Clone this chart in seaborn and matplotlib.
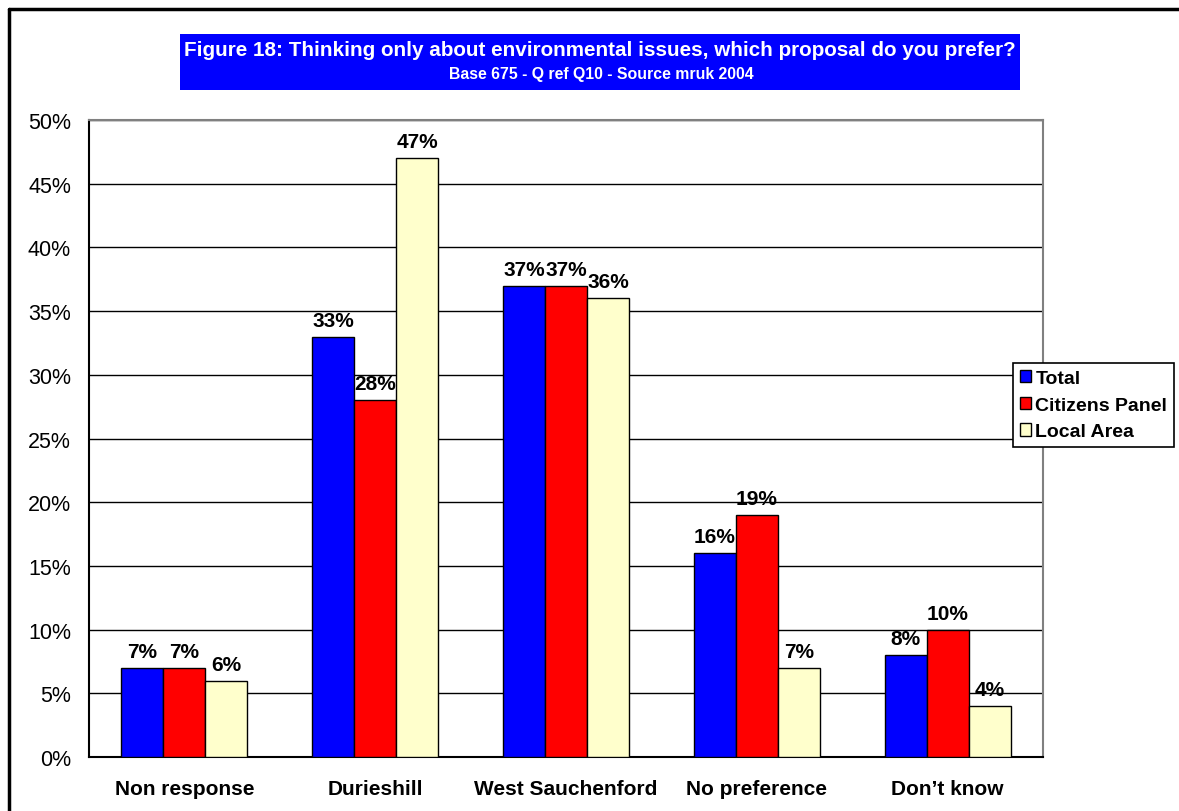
import matplotlib
matplotlib.use("Agg")
import matplotlib.pyplot as plt
import matplotlib.patches as mpatches
import matplotlib.lines as mlines
import seaborn as sns
import pandas as pd
import numpy as np

categories = ["Non response", "Durieshill", "West Sauchenford", "No preference", "Don\u2019t know"]
series_names = ["Total", "Citizens Panel", "Local Area"]
total = [7, 33, 37, 16, 8]
citizens_panel = [7, 28, 37, 19, 10]
local_area = [6, 47, 36, 7, 4]
colors = ["#0000FF", "#FF0000", "#FFFFCC"]
y_ticks = [0, 5, 10, 15, 20, 25, 30, 35, 40, 45, 50]

sns.set_style("white")
plt.rcParams["font.family"] = ["Liberation Sans", "DejaVu Sans"]
plt.rcParams["text.color"] = "black"
plt.rcParams["xtick.color"] = "black"
plt.rcParams["ytick.color"] = "black"
plt.rcParams["axes.labelcolor"] = "black"

rows = []
for name, vals in zip(series_names, [total, citizens_panel, local_area]):
    for c, v in zip(categories, vals):
        rows.append({"category": c, "series": name, "value": v})
df = pd.DataFrame(rows)

fig = plt.figure(figsize=(11.79, 8.12), dpi=100)
ax = fig.add_axes([89/1179, 1 - 758/812, (1043 - 89)/1179, (758 - 121)/812])

sns.barplot(data=df, x="category", y="value", hue="series", order=categories,
            hue_order=series_names, palette=colors, width=0.66, gap=0,
            edgecolor="black", linewidth=1.0, saturation=1, ax=ax, legend=False,
            errorbar=None, zorder=3)

ax.set_ylim(0, 50)
ax.set_xlim(-0.5, len(categories) - 0.5)
ax.set_yticks(y_ticks)
ax.set_yticklabels([f"{t}%" for t in y_ticks], fontsize=15.5, color="black")
ax.yaxis.grid(True, color="black", linewidth=1.0, zorder=0)
ax.set_axisbelow(True)
ax.set_xlabel("")
ax.set_ylabel("")

ax.set_xticks(range(len(categories)))
ax.set_xticklabels(categories, fontsize=15, fontweight="bold", color="black")
ax.set_xticks(np.arange(-0.5, len(categories), 1.0), minor=True)
ax.tick_params(axis="x", which="major", length=0, pad=16)
ax.tick_params(axis="x", which="minor", length=6, width=1.2, direction="out", color="black")
ax.tick_params(axis="y", which="major", length=6, width=1.2, direction="out", color="black", pad=7)

for side in ["left", "bottom"]:
    ax.spines[side].set_color("black")
    ax.spines[side].set_linewidth(1.5)
for side in ["top", "right"]:
    ax.spines[side].set_color("#808080")
    ax.spines[side].set_linewidth(1.5)
    ax.spines[side].set_visible(True)

for cont in ax.containers:
    labels = [f"{int(round(b.get_height()))}%" for b in cont]
    ax.bar_label(cont, labels=labels, padding=5, fontsize=15, fontweight="bold", color="black")

# Title box
title_box = mpatches.Rectangle((180/1179, 1 - 91/812), (1020 - 180)/1179, (91 - 35)/812,
                               transform=fig.transFigure, facecolor="#0000FF",
                               edgecolor="none", zorder=1)
fig.patches.append(title_box)
fig.text(600/1179, 1 - 50/812,
         "Figure 18: Thinking only about environmental issues, which proposal do you prefer?",
         ha="center", va="center", color="white", fontsize=14.9, fontweight="bold", zorder=2)
fig.text(601/1179, 1 - 75/812, "Base 675 - Q ref Q10 - Source mruk 2004",
         ha="center", va="center", color="white", fontsize=11.4, fontweight="bold", zorder=2)

# Figure border (left and top visible)
fig.add_artist(mlines.Line2D([9/1179, 9/1179], [0, 1 - 10/812], color="black", linewidth=2.5,
                             transform=fig.transFigure))
fig.add_artist(mlines.Line2D([9/1179, 1.0], [1 - 10/812, 1 - 10/812], color="black", linewidth=2.5,
                             transform=fig.transFigure))

# Legend
handles = [mpatches.Patch(facecolor=c, edgecolor="black", linewidth=1.0, label=n)
           for c, n in zip(colors, series_names)]
leg = fig.legend(handles=handles, loc="upper left",
                 bbox_to_anchor=(1013/1179, 1 - 364/812), frameon=True,
                 fancybox=False, edgecolor="black", framealpha=1,
                 prop={"size": 14, "weight": "bold"}, handlelength=0.6,
                 handleheight=0.6, handletextpad=0.2, borderpad=0.35,
                 labelspacing=0.5, borderaxespad=0)
leg.get_frame().set_linewidth(1.2)
for t in leg.get_texts():
    t.set_color("black")

fig.savefig("out.png", dpi=100)
